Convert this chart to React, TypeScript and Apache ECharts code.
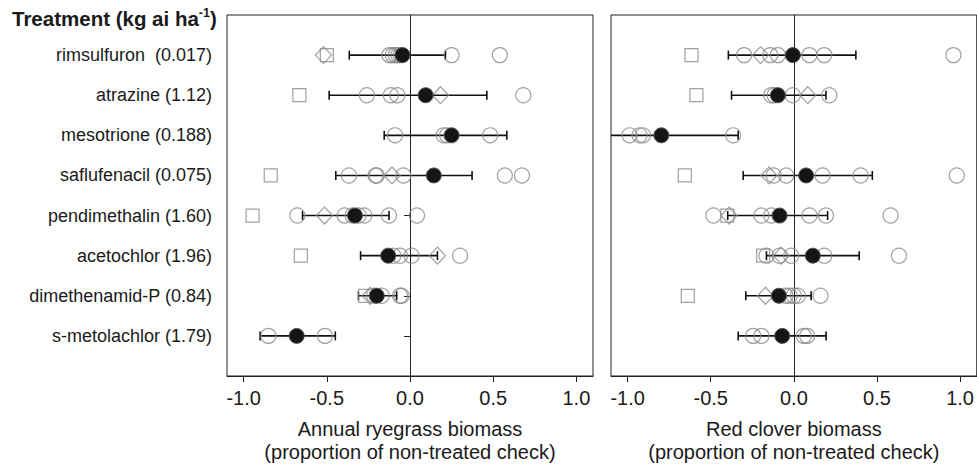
import React, { useEffect, useRef } from "react";
import * as echarts from "echarts";

const treatments = [
  "rimsulfuron  (0.017)",
  "atrazine (1.12)",
  "mesotrione (0.188)",
  "saflufenacil (0.075)",
  "pendimethalin (1.60)",
  "acetochlor (1.96)",
  "dimethenamid-P (0.84)",
  "s-metolachlor (1.79)",
];
const xTicks = [-1, -0.5, 0, 0.5, 1];

// Annual ryegrass (left panel)
const ryeMean = [-0.045, 0.094, 0.25, 0.143, -0.331, -0.131, -0.2, -0.681];
const ryeLow = [-0.365, -0.486, -0.155, -0.446, -0.646, -0.297, -0.31, -0.901];
const ryeHigh = [0.213, 0.462, 0.582, 0.373, -0.126, 0.165, -0.08, -0.449];
const ryeCircles = [
  [-0.124, -0.104, -0.086, -0.07, -0.056, 0.25, 0.54],
  [-0.259, -0.115, -0.076, 0.681],
  [-0.09, 0.203, 0.223, 0.482],
  [-0.367, -0.207, -0.2, -0.04, 0.57, 0.673],
  [-0.677, -0.393, -0.345, -0.309, -0.275, -0.126, 0.042],
  [-0.1, -0.06, 0.01, 0.301],
  [-0.216, -0.17, -0.06, -0.05],
  [-0.851, -0.511],
];
const ryeSquares = [-0.5, -0.665, null, -0.837, -0.946, -0.656, -0.27, null];
const ryeDiamonds = [-0.52, 0.183, null, -0.108, -0.514, 0.165, -0.24, null];

// Red clover (right panel)
const cloverMean = [-0.006, -0.096, -0.797, 0.074, -0.086, 0.114, -0.09, -0.07];
const cloverLow = [-0.394, -0.375, -1.26, -0.305, -0.398, -0.165, -0.289, -0.335];
const cloverHigh = [0.373, 0.193, -0.335, 0.472, 0.203, 0.393, 0.104, 0.194];
const cloverCircles = [
  [-0.299, -0.142, -0.096, 0.094, 0.183, 0.96],
  [-0.136, -0.116, -0.006, 0.213],
  [-0.988, -0.928, -0.908, -0.365],
  [-0.121, -0.046, 0.173, 0.402, 0.98],
  [-0.484, -0.195, -0.136, 0.094, 0.193, 0.582],
  [-0.165, -0.086, -0.016, 0.183, 0.632],
  [-0.05, -0.025, 0, 0.024, 0.16],
  [-0.245, -0.195, 0.06, 0.08],
];
const cloverSquares = [-0.616, -0.586, null, -0.656, -0.4, -0.185, -0.638, null];
const cloverDiamonds = [-0.2, 0.084, null, -0.149, -0.39, -0.076, -0.171, null];

const FONT = "'Liberation Sans', Arial, Helvetica, sans-serif";
const TXT = "#1a1a1a";
const GRAY = "#8a8a8a";

function panelSeries(
  idx: number,
  mean: number[],
  low: number[],
  high: number[],
  circles: number[][],
  squares: (number | null)[],
  diamonds: (number | null)[]
) {
  const circleData: number[][] = [];
  circles.forEach((row, i) => row.forEach((v) => circleData.push([v, i + 1])));
  const sq: number[][] = [];
  squares.forEach((v, i) => {
    if (v !== null) sq.push([v, i + 1]);
  });
  const dm: number[][] = [];
  diamonds.forEach((v, i) => {
    if (v !== null) dm.push([v, i + 1]);
  });
  const hollow = { color: "rgba(0,0,0,0)", borderColor: GRAY, borderWidth: 1.2 };
  return [
    {
      type: "custom",
      xAxisIndex: idx,
      yAxisIndex: idx,
      z: 3,
      encode: { x: [0, 1], y: 2 },
      data: low.map((l, i) => [l, high[i], i + 1]),
      renderItem: (params: any, api: any) => {
        const lo = api.coord([api.value(0), api.value(2)]);
        const hi = api.coord([api.value(1), api.value(2)]);
        const cs = params.coordSys;
        const xmin = cs.x;
        const xmax = cs.x + cs.width;
        const x1 = Math.max(lo[0], xmin);
        const x2 = Math.min(hi[0], xmax);
        const y = lo[1];
        const h = 4.5;
        const st = { stroke: "#111", lineWidth: 1.6 };
        const children: any[] = [
          { type: "line", shape: { x1, y1: y, x2, y2: y }, style: st },
        ];
        if (lo[0] >= xmin)
          children.push({ type: "line", shape: { x1, y1: y - h, x2: x1, y2: y + h }, style: st });
        if (hi[0] <= xmax)
          children.push({ type: "line", shape: { x1: x2, y1: y - h, x2, y2: y + h }, style: st });
        return { type: "group", children };
      },
    },
    {
      type: "scatter",
      xAxisIndex: idx,
      yAxisIndex: idx,
      z: 4,
      symbol: "rect",
      symbolSize: 13,
      itemStyle: hollow,
      data: sq,
    },
    {
      type: "scatter",
      xAxisIndex: idx,
      yAxisIndex: idx,
      z: 4,
      symbol: "diamond",
      symbolSize: [16, 17],
      itemStyle: hollow,
      data: dm,
    },
    {
      type: "scatter",
      xAxisIndex: idx,
      yAxisIndex: idx,
      z: 4,
      symbol: "circle",
      symbolSize: 15,
      itemStyle: hollow,
      data: circleData,
    },
    {
      type: "scatter",
      xAxisIndex: idx,
      yAxisIndex: idx,
      z: 5,
      symbol: "circle",
      symbolSize: 15,
      itemStyle: { color: "#151515", borderColor: "#555", borderWidth: 1, opacity: 1 },
      data: mean.map((m, i) => [m, i + 1]),
    },
  ];
}

function xAxisCfg(idx: number, name: string, zeroColor: string) {
  const none = "rgba(0,0,0,0)";
  return {
    type: "value",
    gridIndex: idx,
    min: -1.1,
    max: 1.1,
    name,
    nameLocation: "middle",
    nameGap: 41,
    nameTextStyle: { fontFamily: FONT, fontSize: 20, color: TXT, lineHeight: 23.5 },
    axisLine: { show: true, onZero: false, lineStyle: { color: "#222", width: 1 } },
    axisTick: { show: true, length: 6, customValues: xTicks, lineStyle: { color: "#222" } },
    axisLabel: {
      customValues: xTicks,
      margin: 12,
      fontFamily: FONT,
      fontSize: 20,
      color: TXT,
      formatter: (v: number) => v.toFixed(1),
    },
    splitLine: {
      show: true,
      lineStyle: {
        color: xTicks.map((t) => (t === 0 ? zeroColor : none)),
        width: 1,
      },
    },
  };
}

export default function App() {
  const ref = useRef<HTMLDivElement>(null);
  useEffect(() => {
    if (!ref.current) return;
    const chart = echarts.init(ref.current, undefined, { renderer: "svg" });
    const rows = treatments.map((_, i) => i + 1);
    chart.setOption({
      animation: false,
      backgroundColor: "#ffffff",
      textStyle: { fontFamily: FONT },
      grid: [
        { left: 227, top: 15, width: 366, height: 365, show: true, borderColor: "#222", borderWidth: 1 },
        { left: 611, top: 15, width: 366, height: 365, show: true, borderColor: "#222", borderWidth: 1 },
      ],
      xAxis: [
        xAxisCfg(0, "Annual ryegrass biomass\n(proportion of non-treated check)", "#222"),
        xAxisCfg(1, "Red clover biomass\n(proportion of non-treated check)", "#666"),
      ],
      yAxis: [
        {
          type: "value",
          gridIndex: 0,
          min: 0,
          max: 9,
          inverse: true,
          axisLine: { show: true, lineStyle: { color: "#222" } },
          axisTick: { show: true, length: 6, customValues: rows, lineStyle: { color: "#222" } },
          axisLabel: {
            customValues: rows,
            margin: 15,
            fontFamily: FONT,
            fontSize: 18,
            color: TXT,
            formatter: (v: number) => treatments[Math.round(v) - 1] || "",
          },
          splitLine: { show: false },
        },
        {
          type: "value",
          gridIndex: 1,
          min: 0,
          max: 9,
          inverse: true,
          axisLine: { show: true, lineStyle: { color: "#222" } },
          axisTick: { show: false },
          axisLabel: { show: false },
          splitLine: { show: false },
        },
      ],
      graphic: [
        {
          type: "text",
          left: 12,
          top: 6,
          style: {
            text: "{a|Treatment (kg ai ha}{s|-1}{a|)}",
            rich: {
              a: { fontFamily: FONT, fontSize: 20.5, fontWeight: "bold", fill: TXT, lineHeight: 24 },
              s: { fontFamily: FONT, fontSize: 12.5, fontWeight: "bold", fill: TXT, verticalAlign: "top", lineHeight: 24 },
            },
          },
        },
      ],
      series: [
        ...panelSeries(0, ryeMean, ryeLow, ryeHigh, ryeCircles, ryeSquares, ryeDiamonds),
        ...panelSeries(1, cloverMean, cloverLow, cloverHigh, cloverCircles, cloverSquares, cloverDiamonds),
      ],
    });
    return () => chart.dispose();
  }, []);
  return (
    <div
      ref={ref}
      style={{ position: "absolute", left: 0, top: 0, width: 977, height: 469 }}
    />
  );
}
